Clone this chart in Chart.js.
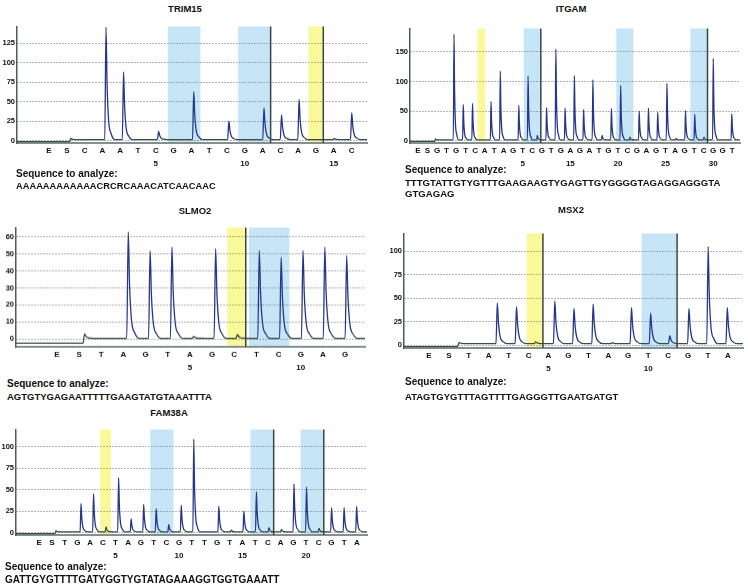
<!DOCTYPE html>
<html>
<head>
<meta charset="utf-8">
<script src="https://cdn.jsdelivr.net/npm/chart.js@4.4.0/dist/chart.umd.min.js"></script>
<style>
  body { margin: 0; background: #fff; width: 748px; height: 588px; position: relative; overflow: hidden;
         font-family: 'Liberation Sans', Arial, sans-serif; font-weight: bold; color: #111; }
  canvas { position: absolute; }
  .txt { position: absolute; white-space: nowrap; line-height: 1; transform: translateY(-50%); }
  .title { position: absolute; white-space: nowrap; line-height: 1; transform: translate(-50%, -50%); font-size: 9.5px; }
</style>
</head>
<body>
<script>
// ---- TRIM15 ----
const trimLabels = ['E','S','C','A','A','T','C','G','A','T','C','G','A','C','A','G','A','C'];
const trimNumbers = ['','','','','','','5','','','','','10','','','','','15',''];
const trimPeaks = [-1, 3, 1.5, 145, 88, 1.5, 12, 2, 63, 1.5, 25, 2, 42, 33, 53, 1.5, 3, 36];
const trimBase = [-1, 1.5];
const trimYTicks = [0, 25, 50, 75, 100, 125];
const trimBlue = [[7, 8], [11, 12]];
const trimYellow = [[15, 15]];
const trimEdges = [12, 15];
const trimSequence = ['AAAAAAAAAAAACRCRCAAACATCAACAAC'];

// ---- ITGAM ----
const itgLabels = ['E','S','G','T','G','T','C','A','T','A','G','T','C','G','T','G','A',
                   'G','A','T','G','T','C','G','A','G','T','A','G','T','C','G','G','T'];
const itgNumbers = ['','','','','','','','','','','','5','','','','','15',
                    '','','','','20','','','','','25','','','','','30','',''];
const itgPeaks = [-1, 3, 1.5, 180, 61, 63, 1.5, 66, 117.5, 2, 59.6, 109, 9, 56, 155, 55, 110,
                  52.5, 103, 9, 54, 93, 6, 50, 55, 48, 97, 4, 51, 44.5, 6, 139, 1.5, 45.5];
const itgBase = [-1, 1.5];
const itgYTicks = [0, 50, 100, 150];
const itgBlue = [[11, 12], [21, 22], [29, 30]];
const itgYellow = [[6, 6]];
const itgEdges = [12, 30];
const itgSequence = ['TTTGTATTGTYGTTTGAAGAAGTYGAGTTGYGGGGTAGAGGAGGGTA', 'GTGAGAG'];

// ---- SLMO2 ----
const slmLabels = ['E','S','T','A','G','T','A','G','C','T','C','G','A','G'];
const slmNumbers = ['','','','','','','5','','','','','10','',''];
const slmPeaks = [-2.5, 3, 0.5, 63, 52, 54, 1.5, 53, 2.5, 52, 48, 52, 54, 49];
const slmBase = [-2.5, 0.3];
const slmYTicks = [0, 10, 20, 30, 40, 50, 60];
const slmBlue = [[9, 10]];
const slmYellow = [[8, 8]];
const slmEdges = [8];
const slmSequence = ['AGTGTYGAGAATTTTTGAAGTATGTAAATTTA'];

// ---- MSX2 ----
const msxLabels = ['E','S','T','A','T','C','A','G','T','A','G','T','C','G','T','A'];
const msxNumbers = ['','','','','','','5','','','','','10','','','',''];
const msxPeaks = [-1.5, 3, 1.5, 45, 41, 3.5, 47, 39, 43.7, 2.5, 40, 34, 10, 39, 105, 40];
const msxBase = [-1.5, 1.5];
const msxYTicks = [0, 25, 50, 75, 100];
const msxBlue = [[11, 12]];
const msxYellow = [[5, 5]];
const msxEdges = [5, 12];
const msxSequence = ['ATAGTGYGTTTAGTTTTGAGGGTTGAATGATGT'];

// ---- FAM38A ----
const famLabels = ['E','S','T','G','A','C','T','A','G','T','C','G','T','T','G','T','A',
                   'T','C','A','G','T','C','G','T','A'];
const famNumbers = ['','','','','','','5','','','','','10','','','','','15',
                    '','','','','20','','','',''];
const famPeaks = [-1, 2.5, 1.5, 34, 45, 6.7, 64, 16, 33, 28, 9.3, 32, 108.5, 1.5, 31, 3, 25,
                  47.5, 6, 4, 56.7, 53, 5, 29, 29, 30.5];
const famBase = [-1, 1];
const famYTicks = [0, 25, 50, 75, 100];
const famBlue = [[9, 10], [17, 18], [21, 22]];
const famYellow = [[5, 5]];
const famEdges = [18, 22];
const famSequence = ['GATTGYGTTTTGATYGGTYGTATAGAAAGGTGGTGAAATT'];

const FONT = "'Liberation Sans', Arial, sans-serif";
const BLUE_BAND = '#c6e5f6';
const YELLOW_BAND = '#f9f99a';

// Panels: layout only (pixel boxes, axis ranges, text spots)
const panels = [
  { name: 'TRIM15', labels: trimLabels, numbers: trimNumbers, peaks: trimPeaks, base: trimBase,
    yTicks: trimYTicks, blue: trimBlue, yellow: trimYellow, edges: trimEdges, seq: trimSequence,
    plot: [17, 22, 367, 143], xRange: [-2.07, 17.87], lRange: [-1.8, 17.87], yRange: [-2.83, 146.2],
    title: [185, 9], seqAt: [16, 174, 187], seqSize: 9.3 },
  { name: 'ITGAM', labels: itgLabels, numbers: itgNumbers, peaks: itgPeaks, base: itgBase,
    yTicks: itgYTicks, blue: itgBlue, yellow: itgYellow, edges: itgEdges, seq: itgSequence,
    plot: [410, 24, 740, 143], xRange: [-1.75, 33.89], lRange: [-0.84, 33.82], yRange: [-3.73, 189.4],
    title: [571, 9], seqAt: [405, 170, 182.5], seqSize: 9.6 },
  { name: 'SLMO2', labels: slmLabels, numbers: slmNumbers, peaks: slmPeaks, base: slmBase,
    yTicks: slmYTicks, blue: slmBlue, yellow: slmYellow, edges: slmEdges, seq: slmSequence,
    plot: [16, 223, 365, 346.5], xRange: [-2.14, 13.84], lRange: [-1.85, 13.9], yRange: [-4.66, 65.5],
    title: [195, 211], seqAt: [7, 384, 397], seqSize: 9.5 },
  { name: 'MSX2', labels: msxLabels, numbers: msxNumbers, peaks: msxPeaks, base: msxBase,
    yTicks: msxYTicks, blue: msxBlue, yellow: msxYellow, edges: msxEdges, seq: msxSequence,
    plot: [404, 229, 743, 348], xRange: [-1.87, 15.82], lRange: [-1.25, 15.76], yRange: [-3.07, 118.9],
    title: [571, 210], seqAt: [405, 382, 397], seqSize: 9.5 },
  { name: 'FAM38A', labels: famLabels, numbers: famNumbers, peaks: famPeaks, base: famBase,
    yTicks: famYTicks, blue: famBlue, yellow: famYellow, edges: famEdges, seq: famSequence,
    plot: [16, 425, 367, 535], xRange: [-2.19, 25.83], lRange: [-1.83, 25.8], yRange: [-2.56, 119.7],
    title: [169, 413], seqAt: [5, 567, 580], seqSize: 10 }
];

// Turn peak heights into a pyrogram-like trace (sharp rise, quick decay)
function buildTrace(peaks, base, xMin, xMax) {
  const pts = [{ x: xMin, y: base[0] }];
  peaks.forEach((h, i) => {
    if (i === 0) return;
    const b0 = i === 1 ? base[0] : base[1];
    const b1 = base[1];
    const d = h - b1;
    if (d > 0.8) {
      pts.push({ x: i - 0.07, y: b0 });
      pts.push({ x: i, y: h });
      pts.push({ x: i + 0.06, y: b1 + d * 0.5 });
      pts.push({ x: i + 0.15, y: b1 + d * 0.17 });
      pts.push({ x: i + 0.3, y: b1 + d * 0.05 });
      pts.push({ x: i + 0.5, y: b1 });
    } else if (i === 1) {
      pts.push({ x: i - 0.05, y: b0 });
      pts.push({ x: i + 0.05, y: b1 });
    }
  });
  pts.push({ x: xMax, y: base[1] });
  return pts;
}

const bandPlugin = {
  id: 'bands',
  beforeDraw(chart, args, opts) {
    const { ctx, chartArea: a, scales: { x } } = chart;
    ctx.save();
    const fill = (f, l, color) => {
      const x0 = x.getPixelForValue(f - 0.47);
      const x1 = x.getPixelForValue(l + 0.38);
      ctx.fillStyle = color;
      ctx.fillRect(x0, a.top, x1 - x0, a.bottom - a.top);
    };
    opts.blue.forEach(b => fill(b[0], b[1], BLUE_BAND));
    opts.yellow.forEach(b => fill(b[0], b[1], YELLOW_BAND));
    ctx.restore();
  },
  afterDatasetsDraw(chart, args, opts) {
    const { ctx, chartArea: a, scales: { x } } = chart;
    ctx.save();
    ctx.strokeStyle = '#3a4646';
    ctx.lineWidth = 1.5;
    opts.edges.forEach(e => {
      const px = x.getPixelForValue(e + 0.38);
      ctx.beginPath();
      ctx.moveTo(px, a.top);
      ctx.lineTo(px, a.bottom);
      ctx.stroke();
    });
    ctx.restore();
  }
};

function addText(txt, cls, left, top, size) {
  const d = document.createElement('div');
  d.className = cls;
  d.textContent = txt;
  d.style.left = left + 'px';
  d.style.top = top + 'px';
  if (size) d.style.fontSize = size + 'px';
  document.body.appendChild(d);
}

panels.forEach(p => {
  const [l, t, r, b] = p.plot;
  const W = r - l + 24, H = b - t + 32;
  const cv = document.createElement('canvas');
  cv.width = W; cv.height = H;
  cv.style.left = (l - 20) + 'px';
  cv.style.top = (t - 2) + 'px';
  cv.style.width = W + 'px';
  cv.style.height = H + 'px';
  document.body.appendChild(cv);

  const base = p.base;
  new Chart(cv.getContext('2d'), {
    type: 'line',
    data: {
      datasets: [{
        data: buildTrace(p.peaks, base, p.xRange[0], p.xRange[1]),
        xAxisID: 'x',
        yAxisID: 'y',
        borderWidth: 1.3,
        borderColor: '#3e4c48',
        pointRadius: 0,
        cubicInterpolationMode: 'monotone',
        segment: {
          borderColor: c => Math.max(c.p0.parsed.y, c.p1.parsed.y) > base[1] + 3 ? '#26378a' : '#3e4c48'
        }
      }]
    },
    options: {
      responsive: false,
      animation: false,
      devicePixelRatio: 1,
      layout: { padding: { left: 0, right: 4, top: 2, bottom: 0 } },
      plugins: {
        legend: { display: false },
        tooltip: { enabled: false },
        bands: { blue: p.blue, yellow: p.yellow, edges: p.edges }
      },
      scales: {
        x: { type: 'linear', display: false, min: p.xRange[0], max: p.xRange[1] },
        xl: {
          type: 'linear', position: 'bottom', min: p.lRange[0], max: p.lRange[1],
          afterBuildTicks: s => { s.ticks = p.labels.map((_, i) => ({ value: i })); },
          afterFit: s => { s.height = 30; },
          grid: { display: false, drawTicks: false },
          border: { display: true, color: '#84908f', width: 2 },
          ticks: {
            autoSkip: false, maxRotation: 0, minRotation: 0, padding: 2, color: '#111',
            font: { family: FONT, size: 8, weight: 'bold', lineHeight: 1.55 },
            callback: (v, i) => [p.labels[i], p.numbers[i]]
          }
        },
        y: {
          min: p.yRange[0], max: p.yRange[1],
          afterBuildTicks: s => { s.ticks = p.yTicks.map(v => ({ value: v })); },
          afterFit: s => { s.width = 20; },
          grid: { color: '#6f6f6f', lineWidth: 1, drawTicks: false },
          border: { display: true, color: '#4f5c5a', width: 1.5, dash: [1, 2] },
          ticks: { padding: 2, color: '#111', font: { family: FONT, size: 7.5, weight: 'bold' } }
        }
      }
    },
    plugins: [bandPlugin]
  });

  addText(p.name, 'title', p.title[0], p.title[1]);
  addText('Sequence to analyze:', 'txt', p.seqAt[0], p.seqAt[1], 10);
  p.seq.forEach((s, k) => addText(s, 'txt', p.seqAt[0], p.seqAt[2] + k * 11.5, p.seqSize));
});
</script>
</body>
</html>
